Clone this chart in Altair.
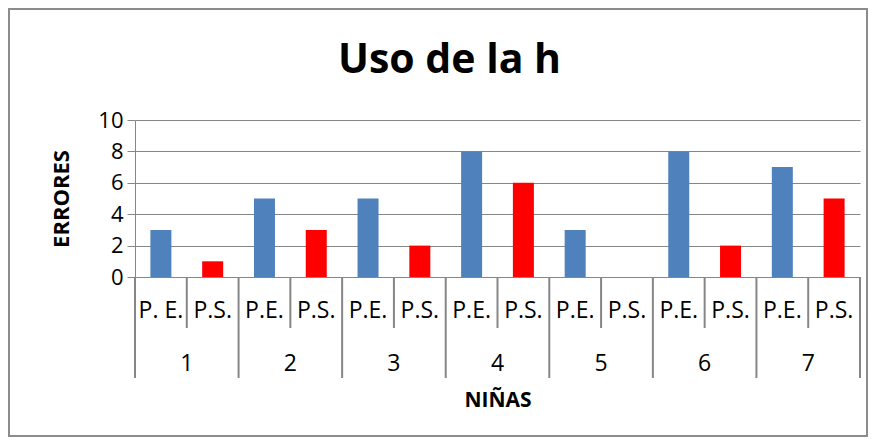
import altair as alt
import pandas as pd

# ---- data ----
groups = ["1", "2", "3", "4", "5", "6", "7"]
pe_labels = ["P. E.", "P.E.", "P.E.", "P.E.", "P.E.", "P.E.", "P.E."]
ps_labels = ["P.S.", "P.S.", "P.S.", "P.S.", "P.S.", "P.S.", "P.S."]
pe_values = [3, 5, 5, 8, 3, 8, 7]
ps_values = [1, 3, 2, 6, 0, 2, 5]
series = ["P.E.", "P.S."]
colors = ["#4F81BD", "#FF0000"]

rows = []
for g in range(len(groups)):
    rows.append({"pos": 2 * g + 0.5, "serie": "P.E.", "label": pe_labels[g], "value": pe_values[g], "grupo": groups[g]})
    rows.append({"pos": 2 * g + 1.5, "serie": "P.S.", "label": ps_labels[g], "value": ps_values[g], "grupo": groups[g]})
df = pd.DataFrame(rows)
n = len(rows)

df_groups = pd.DataFrame({"center": [2 * g + 1 for g in range(len(groups))], "grupo": groups})
df_sep = pd.DataFrame({"b": list(range(n + 1))})
df_sep["kind"] = ["long" if b % 2 == 0 else "short" for b in df_sep["b"]]

FONT = "Open Sans"
GRAY = "#868686"
xscale = alt.Scale(domain=[0, n], padding=0, nice=False, zero=False)

bars = alt.Chart(df).mark_bar(size=21).encode(
    x=alt.X("pos:Q", scale=xscale, axis=None),
    y=alt.Y(
        "value:Q",
        scale=alt.Scale(domain=[0, 10]),
        axis=alt.Axis(
            values=[0, 2, 4, 6, 8, 10],
            grid=True,
            gridColor=GRAY,
            domainColor=GRAY,
            tickColor=GRAY,
            tickSize=8,
            labelFont=FONT,
            labelFontSize=22,
            labelColor="black",
            labelPadding=4,
            title="ERRORES",
            titleFont=FONT,
            titleFontSize=22,
            titleFontWeight="bold",
            titleColor="black",
            titleX=-74,
            titleY=78.5,
            titleAngle=270,
            titleAlign="center",
            titleBaseline="middle",
        ),
    ),
    color=alt.Color("serie:N", scale=alt.Scale(domain=series, range=colors), legend=None),
)

sub_text = alt.Chart(df).mark_text(font=FONT, fontSize=23, color="black", baseline="middle").encode(
    x=alt.X("pos:Q", scale=xscale, axis=None),
    y=alt.value(190.5),
    text="label:N",
)

group_text = alt.Chart(df_groups).mark_text(font=FONT, fontSize=23, color="black", baseline="middle").encode(
    x=alt.X("center:Q", scale=xscale, axis=None),
    y=alt.value(244),
    text="grupo:N",
)

short_sep = alt.Chart(df_sep).transform_filter(alt.datum.kind == "short").mark_rule(color=GRAY, strokeWidth=2).encode(
    x=alt.X("b:Q", scale=xscale, axis=None),
    y=alt.value(157),
    y2=alt.value(208),
)
long_sep = alt.Chart(df_sep).transform_filter(alt.datum.kind == "long").mark_rule(color=GRAY, strokeWidth=2).encode(
    x=alt.X("b:Q", scale=xscale, axis=None),
    y=alt.value(157),
    y2=alt.value(258),
)

x_title = alt.Chart(df_groups).transform_aggregate(c="count()").mark_text(
    font=FONT, fontSize=21, fontWeight="bold", color="black", baseline="middle"
).encode(
    x=alt.value(363),
    y=alt.value(280.5),
    text=alt.value("NIÑAS"),
)

title_text = alt.Chart(df_groups).transform_aggregate(c="count()").mark_text(
    font=FONT, fontSize=41, fontWeight="bold", color="black", baseline="middle"
).encode(
    x=alt.value(314.5),
    y=alt.value(-59),
    text=alt.value("Uso de la h"),
)

border = alt.Chart(df_groups).transform_aggregate(c="count()").mark_rect(
    filled=False, stroke="#8C8C8C", strokeWidth=2
).encode(
    x=alt.value(-126),
    x2=alt.value(732),
    y=alt.value(-111),
    y2=alt.value(316),
)

chart = alt.layer(
    border, bars, short_sep, long_sep, sub_text, group_text, x_title, title_text
).properties(
    width=725,
    height=157,
    autosize=alt.AutoSizeParams(type="none"),
    padding={"left": 127, "top": 112, "right": 9, "bottom": 160},
).configure_view(stroke=None)

chart.save("out.html", embed_options={"renderer": "svg", "actions": False})
